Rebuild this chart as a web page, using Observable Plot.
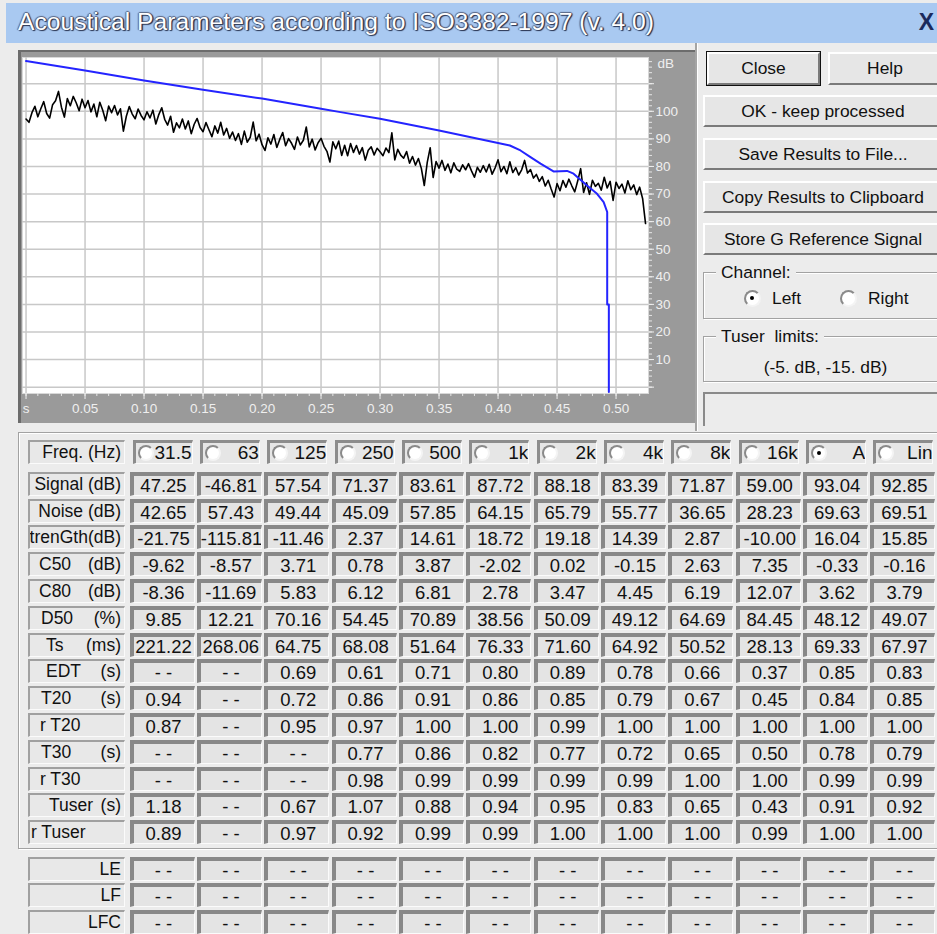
<!DOCTYPE html>
<html><head><meta charset="utf-8">
<script src="https://cdn.jsdelivr.net/npm/d3@7"></script>
<script src="https://cdn.jsdelivr.net/npm/@observablehq/plot@0.6"></script>
<style>
html,body{margin:0;padding:0;}
body{width:937px;height:934px;overflow:hidden;background:#ececec;position:relative;font-family:"Liberation Sans",Arial,sans-serif;color:#111;}
.abs{position:absolute;box-sizing:border-box;}
#titlebar{left:6px;top:3px;width:931px;height:40px;background:#a9c9f1;}
#title{position:absolute;left:12px;top:6px;font-size:23px;line-height:26px;color:#fff;white-space:nowrap;transform-origin:0 0;
  text-shadow:1px 1px 1px #27324f,-1px 0 1px #5a6886,0 -1px 1px #5a6886,1px 0 1px #27324f;}
#closeX{position:absolute;right:3px;top:6px;font-size:23px;line-height:26px;color:#1b2a5c;font-weight:bold;}
#chartPanel{left:18px;top:50px;width:677px;height:373px;background:#9a9a9a;border-top:2px solid #6c6c6c;border-left:3px solid #6c6c6c;}
#chart{left:21px;top:52px;}
.vline{left:695px;top:43px;width:3px;height:388px;border-left:2px solid #a4a4a4;border-right:1px solid #fff;}
.btn{background:#e6e6e6;border-top:2px solid #fff;border-left:2px solid #fff;border-right:2px solid #7a7a7a;border-bottom:2px solid #7a7a7a;
  text-align:center;font-size:17.4px;white-space:nowrap;color:#111;}
.group{border:1px solid #a2a2a2;box-shadow:1px 1px 0 #fff, inset 1px 1px 0 #fff;}
.legend{background:#ececec;font-size:17.4px;padding:0 5px;white-space:nowrap;}
.radio{width:15px;height:15px;border-radius:50%;background:#fff;border:2px solid;border-color:#8a8a8a #f4f4f4 #f4f4f4 #8a8a8a;}
.radio.on::after{content:"";position:absolute;left:3.5px;top:3.5px;width:4px;height:4px;border-radius:50%;background:#000;}
.vcell{background:#e4e4e4;border-top:4px solid #888;border-left:4px solid #888;border-right:1px solid #fbfbfb;border-bottom:1px solid #fbfbfb;
  text-align:center;font-size:18.5px;white-space:nowrap;overflow:hidden;color:#111;}
.hcell{background:#e6e6e6;border-top:3px solid #8c8c8c;border-left:3px solid #8c8c8c;border-right:1px solid #fbfbfb;border-bottom:1px solid #fbfbfb;overflow:hidden;}
.htext{position:absolute;top:0;text-align:right;font-size:19px;white-space:nowrap;}
.lcell{background:#e8e8e8;border-top:2px solid #a0a0a0;border-left:2px solid #a0a0a0;border-right:1px solid #fbfbfb;border-bottom:1px solid #fbfbfb;
  font-size:17.5px;white-space:nowrap;overflow:hidden;display:flex;align-items:center;}
</style></head>
<body>
<div id="titlebar" class="abs"><span id="title">Acoustical Parameters according to ISO3382-1997 (v. 4.0)</span><span id="closeX">X</span></div>
<div id="chartPanel" class="abs"></div>
<div id="chart" class="abs"></div>
<div class="abs vline"></div>
<script>
// ---------------- chart data ----------------
const etcStep = 0.0025; // s between samples of the energy-time curve
const etcDb = [
 97.2, 96.0, 99.5, 101.8, 98.0, 100.9, 103.5, 99.2, 97.5, 102.4,
 103.8, 107.2, 101.5, 97.9, 104.6, 102.0, 105.4, 103.1, 100.2, 104.4,
 101.3, 103.9, 99.8, 102.6, 98.0, 103.3, 100.4, 96.6, 101.9, 99.5,
 102.1, 98.7, 100.9, 92.8, 98.2, 101.7, 99.0, 97.3, 100.8, 98.5,
 96.9, 99.8, 97.6, 100.4, 95.4, 98.8, 101.3, 97.1, 95.0, 98.2,
 92.4, 95.8, 94.0, 97.2, 93.6, 96.5, 91.9, 95.3, 97.4, 94.1,
 92.6, 95.9, 93.3, 90.8, 94.7, 92.1, 96.0, 91.4, 93.8, 90.2,
 92.5, 89.4, 91.9, 88.0, 92.8, 88.8, 90.6, 96.1, 89.3, 91.7,
 87.9, 85.8, 90.4, 88.1, 91.6, 86.9, 89.8, 92.3, 87.5, 90.1,
 88.4, 86.2, 90.7, 87.8, 89.5, 94.3, 87.1, 89.9, 86.0, 88.6,
 90.2, 87.3, 85.5, 81.6, 88.9, 86.4, 89.2, 84.0, 87.7, 83.9,
 88.3, 85.1, 87.6, 84.5, 86.8, 82.3, 85.9, 87.1, 84.2, 86.6,
 85.3, 83.9, 86.7, 85.0, 92.2, 82.4, 86.2, 84.1, 83.0, 85.4,
 81.2, 83.6, 80.5, 82.9, 79.3, 73.1, 81.5, 86.8, 76.0, 81.8,
 79.4, 82.2, 78.6, 80.9, 77.7, 81.3, 79.0, 78.2, 80.6, 78.8,
 81.0, 78.4, 76.1, 79.7, 77.9, 80.3, 78.0, 80.8, 77.2, 79.5,
 82.4, 78.1, 80.0, 77.4, 81.7, 77.8, 79.6, 76.9, 78.8, 82.2,
 77.6, 78.9, 75.8, 77.1, 74.6, 76.3, 72.9, 75.0, 71.8, 68.9,
 73.8, 71.2, 74.9, 72.5, 75.4, 73.0, 70.8, 74.7, 79.2, 70.6,
 74.1, 69.9, 75.0, 72.8, 73.9, 71.4, 76.1, 72.2, 74.6, 67.7,
 74.3, 72.0, 73.6, 70.4, 74.8, 71.6, 73.3, 69.8, 72.5, 68.4, 59.3
];
// Schroeder integrated decay curve (blue)
const decayT  = [0, 0.05, 0.10, 0.15, 0.20, 0.25, 0.2665, 0.30, 0.35, 0.38, 0.41, 0.419, 0.4275, 0.436, 0.447, 0.4585, 0.464, 0.4754, 0.4839, 0.4895, 0.4925, 0.4925, 0.4939, 0.4939];
const decayDb = [118.2, 114.8, 111.2, 107.8, 104.6, 100.9, 99.7, 97.3, 93.0, 90.3, 87.6, 85.8, 83.4, 81.0, 78.2, 78.4, 77.4, 73.1, 70.1, 67.1, 63.5, 30.0, 30.0, -1.8];

const xTicks = [0, 0.05, 0.10, 0.15, 0.20, 0.25, 0.30, 0.35, 0.40, 0.45, 0.50];
const xTickLabels = ["s", "0.05", "0.10", "0.15", "0.20", "0.25", "0.30", "0.35", "0.40", "0.45", "0.50"];
const yTicks = [0, 10, 20, 30, 40, 50, 60, 70, 80, 90, 100, 110];
const yTickLabels = ["", "10", "20", "30", "40", "50", "60", "70", "80", "90", "100", ""];
const yUnit = "dB";

// ---------------- table data ----------------
const bands = ["31.5", "63", "125", "250", "500", "1k", "2k", "4k", "8k", "16k", "A", "Lin"];
const selectedBand = "A";
const freqHeader = "Freq. (Hz)";
const paramNames = ["Signal (dB)", "Noise (dB)", "trenGth(dB)", "C50", "C80", "D50", "Ts", "EDT", "T20", "r T20", "T30", "r T30", "Tuser", "r Tuser"];
const paramUnits = ["", "", "", "(dB)", "(dB)", "(%)", "(ms)", "(s)", "(s)", "", "(s)", "", "(s)", ""];
const signalDb   = [47.25, -46.81, 57.54, 71.37, 83.61, 87.72, 88.18, 83.39, 71.87, 59.00, 93.04, 92.85];
const noiseDb    = [42.65, 57.43, 49.44, 45.09, 57.85, 64.15, 65.79, 55.77, 36.65, 28.23, 69.63, 69.51];
const strengthDb = [-21.75, -115.81, -11.46, 2.37, 14.61, 18.72, 19.18, 14.39, 2.87, -10.00, 16.04, 15.85];
const c50  = [-9.62, -8.57, 3.71, 0.78, 3.87, -2.02, 0.02, -0.15, 2.63, 7.35, -0.33, -0.16];
const c80  = [-8.36, -11.69, 5.83, 6.12, 6.81, 2.78, 3.47, 4.45, 6.19, 12.07, 3.62, 3.79];
const d50  = [9.85, 12.21, 70.16, 54.45, 70.89, 38.56, 50.09, 49.12, 64.69, 84.45, 48.12, 49.07];
const tsMs = [221.22, 268.06, 64.75, 68.08, 51.64, 76.33, 71.60, 64.92, 50.52, 28.13, 69.33, 67.97];
const edt  = [null, null, 0.69, 0.61, 0.71, 0.80, 0.89, 0.78, 0.66, 0.37, 0.85, 0.83];
const t20  = [0.94, null, 0.72, 0.86, 0.91, 0.86, 0.85, 0.79, 0.67, 0.45, 0.84, 0.85];
const rT20 = [0.87, null, 0.95, 0.97, 1.00, 1.00, 0.99, 1.00, 1.00, 1.00, 1.00, 1.00];
const t30  = [null, null, null, 0.77, 0.86, 0.82, 0.77, 0.72, 0.65, 0.50, 0.78, 0.79];
const rT30 = [null, null, null, 0.98, 0.99, 0.99, 0.99, 0.99, 1.00, 1.00, 0.99, 0.99];
const tuser  = [1.18, null, 0.67, 1.07, 0.88, 0.94, 0.95, 0.83, 0.65, 0.43, 0.91, 0.92];
const rTuser = [0.89, null, 0.97, 0.92, 0.99, 0.99, 1.00, 1.00, 1.00, 0.99, 1.00, 1.00];
const lateNames = ["LE", "LF", "LFC"];
const leVals  = [null, null, null, null, null, null, null, null, null, null, null, null];
const lfVals  = [null, null, null, null, null, null, null, null, null, null, null, null];
const lfcVals = [null, null, null, null, null, null, null, null, null, null, null, null];

// right-hand panel texts
const buttonsTop = ["Close", "Help"];
const buttonsWide = ["OK - keep processed", "Save Results to File...", "Copy Results to Clipboard", "Store G Reference Signal"];
const channelTitle = "Channel:";
const channelOptions = ["Left", "Right"];
const selectedChannel = "Left";
const tuserTitle = "Tuser  limits:";
const tuserText = "(-5. dB, -15. dB)";

// ---------------- chart ----------------
const etc = etcDb.map((db, i) => ({t: i * etcStep, db}));
const decay = decayT.map((t, i) => ({t, db: decayDb[i]}));
const xLab = new Map(xTicks.map((d, i) => [d, xTickLabels[i]]));
const yLab = new Map(yTicks.map((d, i) => [d, yTickLabels[i]]));
const xMinor = d3.range(0, 0.5251, 0.01);
const yMinor = d3.range(0, 119, 2);
const axisFont = 13.5;

const chart = Plot.plot({
  width: 674, height: 371,
  marginLeft: 1, marginRight: 47, marginTop: 5, marginBottom: 30,
  style: {background: "#9a9a9a", color: "#efefef", fontFamily: "'Liberation Sans', Arial, sans-serif", fontSize: "13.5px", overflow: "visible"},
  x: {domain: [-0.003, 0.5275]},
  y: {domain: [-2.3, 119.5]},
  marks: [
    Plot.frame({fill: "white", stroke: "#d8d8d8"}),
    Plot.gridX(xTicks, {stroke: "#c8c8c8", strokeOpacity: 1, strokeWidth: 1.5}),
    Plot.gridY(yTicks, {stroke: "#c8c8c8", strokeOpacity: 1, strokeWidth: 1.5}),
    Plot.line(etc, {x: "t", y: "db", stroke: "#000", strokeWidth: 1.6}),
    Plot.line(decay, {x: "t", y: "db", stroke: "#2424ff", strokeWidth: 2}),
    Plot.axisX(xMinor, {anchor: "bottom", tickSize: 3, tickFormat: () => "", label: null, color: "#e6e6e6"}),
    Plot.axisX(xTicks, {anchor: "bottom", tickSize: 6, tickPadding: 4, tickFormat: d => xLab.get(d), label: null, color: "#efefef", fontSize: axisFont}),
    Plot.axisY(yMinor, {anchor: "right", tickSize: 3, tickFormat: () => "", label: null, color: "#e6e6e6"}),
    Plot.axisY(yTicks, {anchor: "right", tickSize: 5, tickPadding: 2, tickFormat: d => yLab.get(d), label: null, color: "#efefef", fontSize: axisFont}),
    Plot.text([yUnit], {frameAnchor: "top-right", dx: 9, dy: 1, textAnchor: "start", lineAnchor: "top", fill: "#efefef", fontSize: axisFont})
  ]
});
document.getElementById("chart").appendChild(chart);

// ---------------- helpers ----------------
function box(parent, cls, left, top, w, h, text) {
  const d = document.createElement("div");
  d.className = "abs " + cls;
  d.style.left = left + "px"; d.style.top = top + "px";
  if (w != null) d.style.width = w + "px";
  if (h != null) d.style.height = h + "px";
  if (text != null) d.textContent = text;
  parent.appendChild(d);
  return d;
}
const body = document.body;

// title fit
const ttl = document.getElementById("title");
const k = 636 / ttl.getBoundingClientRect().width;
ttl.style.transform = `scaleX(${k})`;

// ---------------- right panel ----------------
const b1 = box(body, "btn", 707, 52, 113, 33, buttonsTop[0]);
b1.style.lineHeight = "29px"; b1.style.outline = "1.5px solid #111";
const b2 = box(body, "btn", 828, 52, 114, 33, buttonsTop[1]); b2.style.lineHeight = "29px";
const wideTops = [95, 138, 181, 223];
buttonsWide.forEach((t, i) => { const b = box(body, "btn", 703, wideTops[i], 240, 32, t); b.style.lineHeight = "28px"; });
box(body, "group", 703, 272, 245, 47);
const lg1 = box(body, "legend", 716, 262, null, 20, channelTitle); lg1.style.lineHeight = "20px";
channelOptions.forEach((o, i) => {
  const cx = i === 0 ? 744 : 840;
  box(body, "radio" + (o === selectedChannel ? " on" : ""), cx, 290, 17, 17);
  const l = box(body, "", cx + 28, 287, null, 22, o);
  l.style.fontSize = "17.4px"; l.style.lineHeight = "22px";
});
box(body, "group", 703, 336, 245, 46);
const lg2 = box(body, "legend", 716, 326, null, 20, tuserTitle); lg2.style.lineHeight = "20px"; lg2.style.whiteSpace = "pre";
const tt = box(body, "", 703, 355, 245, 24, tuserText); tt.style.textAlign = "center"; tt.style.fontSize = "17.4px"; tt.style.lineHeight = "24px";
const emp = box(body, "", 703, 392, 245, 34); emp.style.borderTop = "2px solid #8a8a8a"; emp.style.borderLeft = "2px solid #8a8a8a";

// ---------------- table ----------------
box(body, "group", 18, 432, 930, 417);
const colLeft = j => 129.5 + j * 67.36;
const colW = 65;
const fmt = v => v == null ? "- -" : v.toFixed(2);

// header row
const hl = box(body, "lcell", 28, 440, 97, 24);
hl.style.justifyContent = "flex-end"; hl.style.paddingRight = "3px"; hl.textContent = freqHeader;
bands.forEach((b, j) => {
  const c = box(body, "hcell", colLeft(j) + 3, 440, 60, 24);
  box(c, "radio" + (b === selectedBand ? " on" : ""), 2, 2, 16, 16);
  const t = box(c, "htext", 19, 0, 37, 20, b); t.style.lineHeight = "20px";
});

// parameter rows
const paramRows = [signalDb, noiseDb, strengthDb, c50, c80, d50, tsMs, edt, t20, rT20, t30, rT30, tuser, rTuser];
const nameIndent = [null, null, null, 9, 9, 11, 16, 16, 11, 10, 11, 10, 19, 1]; // layout only
paramRows.forEach((vals, r) => {
  const top = 471.7 + r * 26.8;
  const lc = box(body, "lcell", 28, top, 97, 24);
  if (nameIndent[r] == null) {
    lc.style.justifyContent = "flex-end"; lc.style.paddingRight = "3px";
    lc.textContent = paramNames[r];
  } else {
    lc.style.justifyContent = "space-between"; lc.style.paddingLeft = nameIndent[r] + "px"; lc.style.paddingRight = "3px";
    const n = document.createElement("span"); n.textContent = paramNames[r]; lc.appendChild(n);
    const u = document.createElement("span"); u.textContent = paramUnits[r]; lc.appendChild(u);
  }
  vals.forEach((v, j) => {
    const c = box(body, "vcell", colLeft(j), top, colW, 24, fmt(v));
    c.style.lineHeight = "19px";
  });
});

// late lateral rows
[leVals, lfVals, lfcVals].forEach((vals, r) => {
  const top = 856.7 + r * 26.7;
  const lc = box(body, "lcell", 28, top, 97, 24, lateNames[r]);
  lc.style.justifyContent = "flex-end"; lc.style.paddingRight = "3px";
  vals.forEach((v, j) => {
    const c = box(body, "vcell", colLeft(j), top, colW, 24, fmt(v));
    c.style.lineHeight = "19px";
  });
});
</script>
</body></html>
